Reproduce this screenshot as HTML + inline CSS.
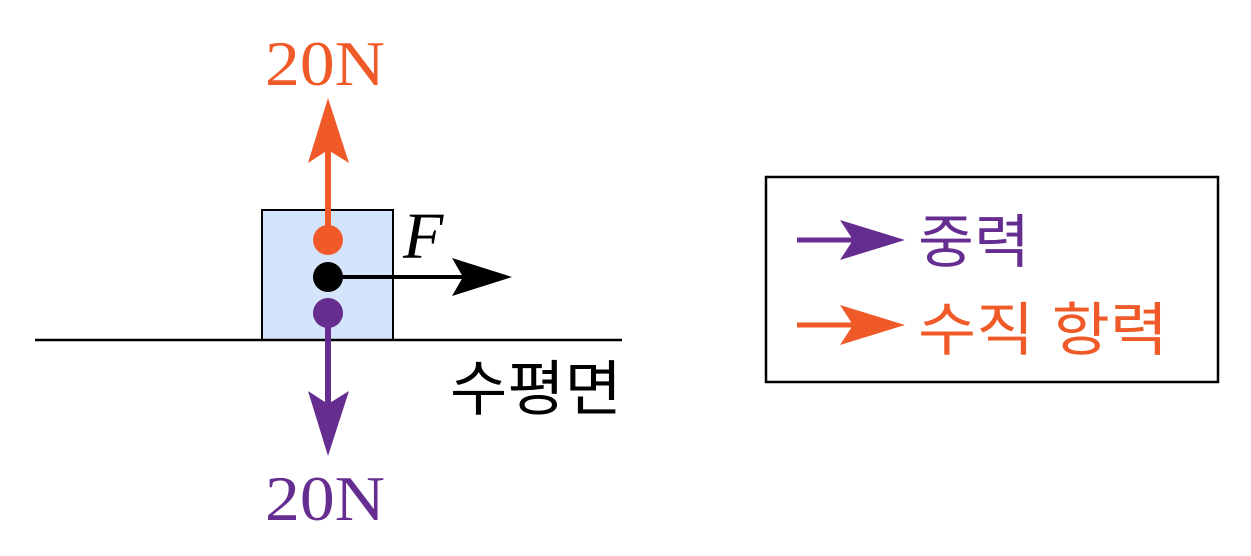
<!DOCTYPE html>
<html><head><meta charset="utf-8"><style>
html,body{margin:0;padding:0;background:#fff;}
svg{display:block}
</style></head><body>
<svg width="1251" height="556" viewBox="0 0 1251 556" xmlns="http://www.w3.org/2000/svg">
<rect x="262" y="210" width="131" height="130" fill="#d4e4fb" stroke="#000" stroke-width="2"/>
<line x1="35" y1="340" x2="622" y2="340" stroke="#000" stroke-width="2.5"/>
<line x1="328" y1="240" x2="328" y2="150" stroke="#f05a28" stroke-width="6"/>
<path d="M328,98 L349,163 L328,150 L308,163 Z" fill="#f05a28"/>
<line x1="328" y1="313" x2="328" y2="405" stroke="#662d91" stroke-width="6"/>
<path d="M328,456 L349,391 L328,404 L308,391 Z" fill="#662d91"/>
<line x1="328" y1="277" x2="465" y2="277" stroke="#000" stroke-width="4"/>
<path d="M512,277 L452,258 L463,277 L452,296 Z" fill="#000"/>
<circle cx="328" cy="240" r="15" fill="#f05a28"/>
<circle cx="328" cy="277" r="15" fill="#000"/>
<circle cx="328" cy="313" r="15" fill="#662d91"/>
<text x="265" y="85" font-family="Liberation Serif,serif" font-size="64" fill="#f05a28" textLength="120" lengthAdjust="spacingAndGlyphs">20N</text>
<text x="265" y="520" font-family="Liberation Serif,serif" font-size="64" fill="#662d91" textLength="120" lengthAdjust="spacingAndGlyphs">20N</text>
<text x="403" y="258" font-family="Liberation Serif,serif" font-style="italic" font-size="66" fill="#000">F</text>
<text x="450" y="410" font-family="Liberation Sans,Noto Sans CJK KR,sans-serif" font-size="60" fill="#000" textLength="172" lengthAdjust="spacingAndGlyphs">수평면</text>
<rect x="766" y="177" width="452" height="205" fill="#fff" stroke="#000" stroke-width="2.5"/>
<line x1="797" y1="240" x2="860" y2="240" stroke="#662d91" stroke-width="5"/>
<path d="M905,240 L840,220 L853,240 L840,260 Z" fill="#662d91"/>
<line x1="797" y1="325" x2="860" y2="325" stroke="#f05a28" stroke-width="5"/>
<path d="M905,325 L840,305 L853,325 L840,345 Z" fill="#f05a28"/>
<text x="918" y="262" font-family="Liberation Sans,Noto Sans CJK KR,sans-serif" font-size="58" fill="#662d91" textLength="112" lengthAdjust="spacingAndGlyphs">중력</text>
<text x="918" y="350" font-family="Liberation Sans,Noto Sans CJK KR,sans-serif" font-size="58" fill="#f05a28" textLength="250" lengthAdjust="spacingAndGlyphs">수직 항력</text>
</svg>
</body></html>
